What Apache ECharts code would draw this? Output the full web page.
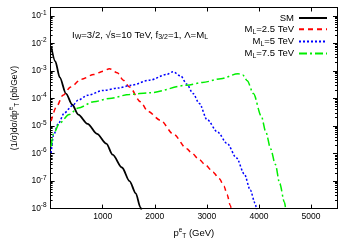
<!DOCTYPE html>
<html>
<head>
<meta charset="utf-8">
<script src="https://cdn.jsdelivr.net/npm/echarts@6/dist/echarts.min.js"></script>
<style>html,body{margin:0;padding:0;background:#fff}#c{width:350px;height:245px}</style>
</head>
<body>
<div id="c"></div>
<script>
// pT (GeV) and (1/sigma) dsigma/dpT (pb/GeV)
const smX = [10, 90, 175, 295, 415, 530, 710, 890, 1070, 1190, 1370, 1515, 1635, 1725, 1760];
const smY = [7.9e-3, 2.2e-3, 5.8e-4, 1.5e-4, 5.9e-5, 2.6e-5, 1.2e-5, 5.2e-6, 2.3e-6, 9.1e-7, 3.1e-7, 1.0e-7, 3.6e-8, 1.1e-8, 6.3e-9];

const m25X = [10, 115, 235, 385, 590, 830, 1010, 1130, 1280, 1395, 1515, 1725, 1870, 2110, 2360, 2615, 2705, 2855, 2975, 3120, 3240, 3330, 3390, 3450, 3480];
const m25Y = [1.5e-5, 5.1e-5, 1.3e-4, 2.6e-4, 5.0e-4, 7.4e-4, 9.8e-4, 1.2e-3, 8.5e-4, 4.6e-4, 2.6e-4, 7.6e-5, 3.4e-5, 1.6e-5, 5.0e-6, 1.5e-6, 1.05e-6, 6.0e-7, 3.8e-7, 2.1e-7, 1.2e-7, 6.5e-8, 3.2e-8, 1.3e-8, 8e-9];

const m5X = [10, 55, 145, 265, 415, 530, 710, 1010, 1305, 1545, 1900, 2230, 2350, 2500, 2615, 2735, 2855, 3005, 3210, 3390, 3570, 3720, 3835, 3925, 3960];
const m5Y = [1.05e-6, 4.6e-6, 1.2e-5, 3.0e-5, 5.4e-5, 8.7e-5, 1.3e-4, 1.95e-4, 2.4e-4, 3.0e-4, 4.6e-4, 7.4e-4, 9.3e-4, 6.5e-4, 3.3e-4, 1.5e-4, 6.6e-5, 1.7e-5, 5.9e-6, 2.3e-6, 6.9e-7, 1.8e-7, 4.7e-8, 1.6e-8, 8e-9];

const m75X = [10, 55, 175, 355, 530, 830, 1130, 1515, 1900, 2615, 2915, 3270, 3600, 3690, 3775, 3895, 4045, 4135, 4225, 4315, 4400, 4490, 4520];
const m75Y = [1.8e-6, 5.2e-6, 1.3e-5, 2.6e-5, 4.5e-5, 7.6e-5, 1.0e-4, 1.4e-4, 1.6e-4, 3.0e-4, 3.8e-4, 5.2e-4, 7.9e-4, 7.1e-4, 4.4e-4, 1.5e-4, 2.3e-5, 5.9e-6, 1.5e-6, 4.1e-7, 8.1e-8, 1.7e-8, 8e-9];

const seriesNames = ['SM', 'M{sub|L}=2.5 TeV', 'M{sub|L}=5 TeV', 'M{sub|L}=7.5 TeV'];
const xTicks = [1000, 2000, 3000, 4000, 5000];
const yDecades = [-8, -7, -6, -5, -4, -3, -2, -1];
const xMin = 0, xMax = 5500, yMinExp = -8, yMax = 0.2;

const FONT = 'Liberation Sans';
const lg = v => Math.log10(v);
const pairs = (xs, ys) => xs.map((x, i) => [x, lg(ys[i])]);

const minorVals = [];
for (let d = -8; d <= -1; d++) for (let k = 2; k <= 9; k++) {
  const v = d + Math.log10(k);
  if (v < lg(yMax)) minorVals.push(v);
}

const supRich = {
  sup: {fontFamily: FONT, fontSize: 6.5, padding: [0, 0, 6, 0], color: '#000'},
  sub: {fontFamily: FONT, fontSize: 6.5, padding: [5, 0, 0, 0], color: '#000'}
};

const baseY = (pos, ticks, len, showLabel) => ({
  type: 'value', position: pos, min: yMinExp, max: lg(yMax), interval: 1,
  axisLine: {show: true, lineStyle: {color: '#000', width: 1}},
  axisTick: {show: true, inside: true, length: len, customValues: ticks, lineStyle: {color: '#000'}},
  axisLabel: {
    show: showLabel, customValues: yDecades, margin: 4,
    fontFamily: FONT, fontSize: 8.5, color: '#000',
    formatter: v => '10{sup|' + Math.round(v) + '}',
    rich: {sup: {fontFamily: FONT, fontSize: 6.5, padding: [0, 0, 6, 0], color: '#000'}}
  },
  splitLine: {show: false}
});

const yAxes = [
  Object.assign(baseY('left', yDecades, 4, true), {
    name: '(1/σ)dσ/dp{sup|e}{sub|T} (pb/GeV)', nameLocation: 'middle', nameGap: 19, nameRotate: 90,
    nameTextStyle: {fontFamily: FONT, fontSize: 8.5, color: '#000', rich: supRich}
  }),
  baseY('left', minorVals, 2, false),
  baseY('right', yDecades, 4, false),
  baseY('right', minorVals, 2, false)
];

const xAx = (pos, showLabel) => ({
  type: 'value', position: pos, min: xMin, max: xMax, interval: 1000,
  axisLine: {show: true, lineStyle: {color: '#000', width: 1}},
  axisTick: {show: true, inside: true, length: 4, customValues: xTicks, lineStyle: {color: '#000'}},
  axisLabel: {show: showLabel, customValues: xTicks, margin: 4, fontFamily: FONT, fontSize: 8.5, color: '#000',
    formatter: v => String(Math.round(v))},
  splitLine: {show: false}
});

const xAxes = [
  Object.assign(xAx('bottom', true), {
    name: 'p{sup|e}{sub|T} (GeV)', nameLocation: 'middle', nameGap: 12,
    nameTextStyle: {fontFamily: FONT, fontSize: 9.5, color: '#000', rich: {
      sup: {fontFamily: FONT, fontSize: 6.5, padding: [0, 0, 7, 0], color: '#000'},
      sub: {fontFamily: FONT, fontSize: 6.5, padding: [6, 0, 0, 0], color: '#000'}
    }}
  }),
  xAx('top', false)
];

const mk = (name, data, color, width, type) => ({
  name: name, type: 'line', data: data, xAxisIndex: 0, yAxisIndex: 0,
  showSymbol: false, symbol: 'none', smooth: 0.3, smoothMonotone: 'x', clip: true,
  lineStyle: {color: color, width: width, type: type}, itemStyle: {color: color}
});

const chart = echarts.init(document.getElementById('c'), null, {renderer: 'canvas'});
chart.setOption({
  animation: false,
  backgroundColor: '#fff',
  grid: {left: 29, right: 13, top: 7.5, bottom: 29, containLabel: false},
  title: {
    text: 'I{sub|W}=3/2, √s=10 TeV, f{sub|3/2}=1, Λ=M{sub|L}',
    left: 72, top: 29, padding: 0,
    textStyle: {fontFamily: FONT, fontSize: 9.6, fontWeight: 'normal', color: '#000', rich: {
      sub: {fontFamily: FONT, fontSize: 7, padding: [5, 0, 0, 0], color: '#000'}
    }}
  },
  legend: {
    orient: 'vertical', right: 22, top: 13, align: 'right', padding: 0,
    itemWidth: 28, itemHeight: 8, itemGap: 1.2,
    itemStyle: {opacity: 0, color: 'rgba(0,0,0,0)', borderWidth: 0},
    data: seriesNames,
    textStyle: {fontFamily: FONT, fontSize: 9.5, color: '#000', rich: {
      sub: {fontFamily: FONT, fontSize: 6.8, padding: [5, 0, 0, 0], color: '#000'}
    }}
  },
  xAxis: xAxes,
  yAxis: yAxes,
  series: [
    mk(seriesNames[0], pairs(smX, smY), '#000000', 1.8, 'solid'),
    mk(seriesNames[1], pairs(m25X, m25Y), '#ff0000', 1.5, [5, 4]),
    mk(seriesNames[2], pairs(m5X, m5Y), '#0000ff', 1.5, [2, 2]),
    mk(seriesNames[3], pairs(m75X, m75Y), '#00ee00', 1.5, [8, 3, 2, 3])
  ]
});
</script>
</body>
</html>
